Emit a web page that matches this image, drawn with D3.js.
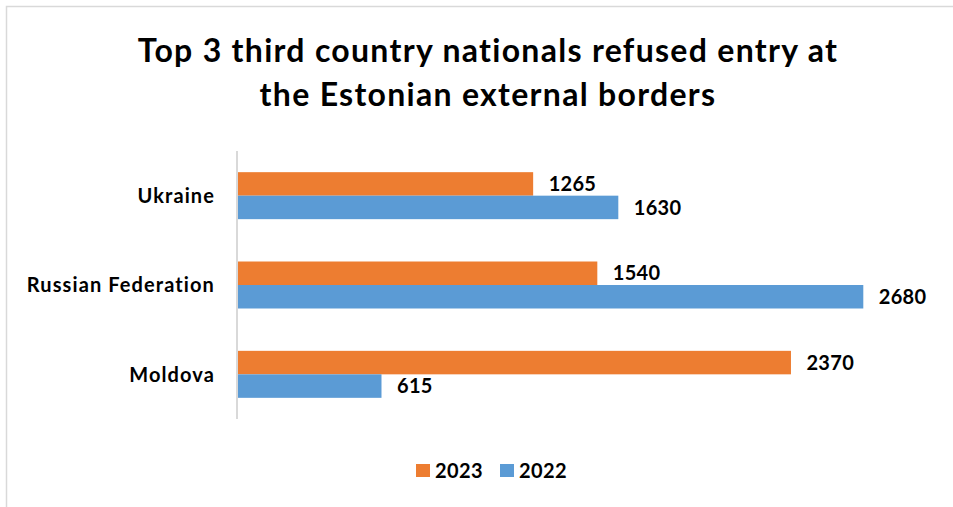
<!DOCTYPE html>
<html>
<head>
<meta charset="utf-8">
<script src="https://cdn.jsdelivr.net/npm/d3@7"></script>
<style>
  html, body { margin: 0; padding: 0; background: #fff; }
  svg { display: block; }
  text { font-family: Lato, "Open Sans", sans-serif; font-weight: bold; fill: #000; }
</style>
</head>
<body>
<svg id="chart" width="953" height="507"></svg>
<script>
const categories = ["Ukraine", "Russian Federation", "Moldova"];
const seriesNames = ["2023", "2022"];
const values2023 = [1265, 1540, 2370];
const values2022 = [1630, 2680, 615];
const titleLines = ["Top 3 third country nationals refused entry at", "the Estonian external borders"];
const colors = { "2023": "#ED7D31", "2022": "#5B9BD5" };

const svg = d3.select("#chart");

// outer frame of the chart area
svg.append("rect")
  .attr("x", 6.5).attr("y", 6.5)
  .attr("width", 980).attr("height", 520)
  .attr("fill", "#fff")
  .attr("stroke", "#d9d9d9").attr("stroke-width", 1.5);

// title
svg.append("g").selectAll("text")
  .data(titleLines)
  .join("text")
  .attr("x", 488)
  .attr("y", (d, i) => 62 + i * 44)
  .attr("text-anchor", "middle")
  .attr("font-size", 32)
  .attr("letter-spacing", 1.3)
  .text(d => d);

const x = d3.scaleLinear().domain([0, 2680]).range([238, 863.3]);
const y = d3.scaleBand().domain(categories).range([151, 419])
  .paddingInner(0.474).paddingOuter(0.237);
const ySub = d3.scaleBand().domain(seriesNames).range([0, y.bandwidth()]);

const rows = categories.map((c, i) => ({
  category: c,
  values: [
    { series: "2023", value: values2023[i] },
    { series: "2022", value: values2022[i] }
  ]
}));

const groups = svg.append("g").selectAll("g")
  .data(rows)
  .join("g")
  .attr("transform", d => `translate(0,${y(d.category)})`);

groups.selectAll("rect")
  .data(d => d.values)
  .join("rect")
  .attr("x", x(0))
  .attr("y", d => ySub(d.series))
  .attr("width", d => x(d.value) - x(0))
  .attr("height", ySub.bandwidth())
  .attr("fill", d => colors[d.series]);

groups.selectAll("text.value")
  .data(d => d.values)
  .join("text")
  .attr("class", "value")
  .attr("x", d => x(d.value) + 15.5)
  .attr("y", d => ySub(d.series) + ySub.bandwidth() / 2)
  .attr("dy", "0.36em")
  .attr("font-size", 20)
  .attr("letter-spacing", 0.3)
  .text(d => d.value);

// vertical category axis line
svg.append("line")
  .attr("x1", x(0) - 1).attr("x2", x(0) - 1)
  .attr("y1", 151).attr("y2", 419)
  .attr("stroke", "#d9d9d9").attr("stroke-width", 2);

// category labels
svg.append("g").selectAll("text")
  .data(categories)
  .join("text")
  .attr("x", 215)
  .attr("y", d => y(d) + y.bandwidth() / 2)
  .attr("dy", "0.36em")
  .attr("text-anchor", "end")
  .attr("font-size", 20)
  .attr("letter-spacing", 1.1)
  .text(d => d);

// legend
const legendX = { "2023": 416, "2022": 500 };
const legend = svg.append("g").selectAll("g")
  .data(seriesNames)
  .join("g")
  .attr("transform", d => `translate(${legendX[d]},464)`);
legend.append("rect")
  .attr("width", 14).attr("height", 13)
  .attr("fill", d => colors[d]);
legend.append("text")
  .attr("x", 19).attr("y", 6.5).attr("dy", "0.36em")
  .attr("font-size", 20)
  .attr("letter-spacing", 0.4)
  .text(d => d);
</script>
</body>
</html>
